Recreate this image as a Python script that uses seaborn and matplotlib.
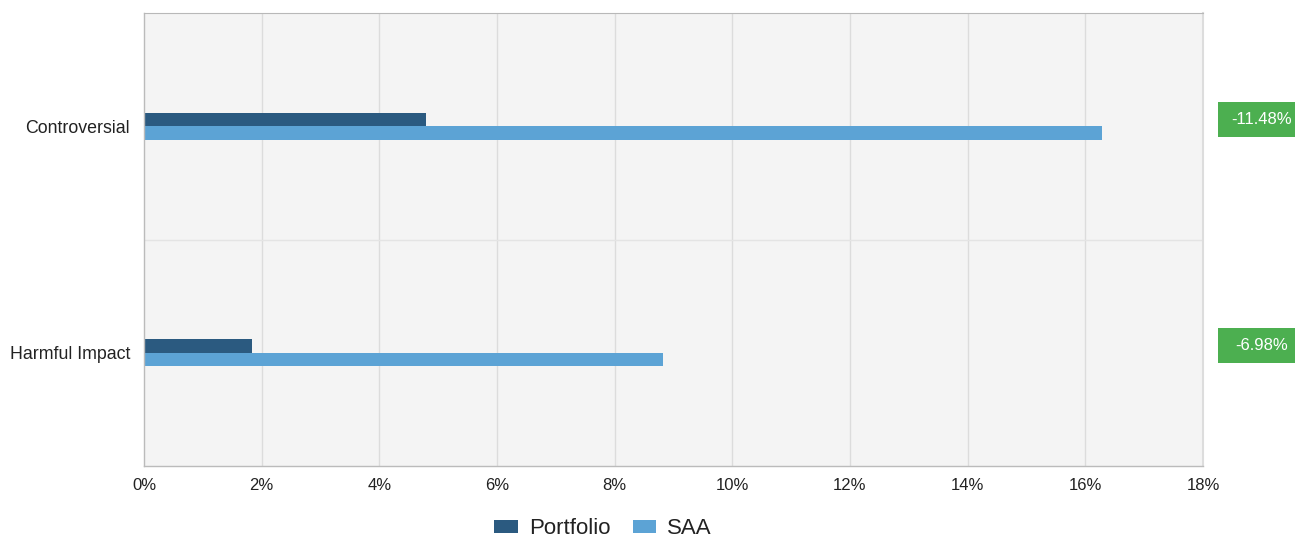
import pandas as pd
import matplotlib.pyplot as plt
import seaborn as sns
from matplotlib.patches import Rectangle
import matplotlib.transforms as mtransforms

# Datos
categories = ['Controversial', 'Harmful Impact']
portfolio = [4.80, 1.84]
saa = [16.28, 8.82]
differences = ['-11.48%', '-6.98%']
series_names = ['Portfolio', 'SAA']
x_ticks = [0, 2, 4, 6, 8, 10, 12, 14, 16, 18]

df = pd.DataFrame({
    'category': categories * 2,
    'value': portfolio + saa,
    'series': [series_names[0]] * len(categories) + [series_names[1]] * len(categories),
})

sns.set_style('white')
plt.rcParams['font.family'] = ['Liberation Sans', 'DejaVu Sans']

fig = plt.figure(figsize=(12.95, 5.38), dpi=100)
ax = fig.add_axes([144 / 1295, 72 / 538, 1059 / 1295, 453 / 538])
ax.set_facecolor('#f4f4f4')

sns.barplot(data=df, y='category', x='value', hue='series', order=categories,
            hue_order=series_names, palette=['#2b5a80', '#5ca3d5'], saturation=1,
            width=0.12, orient='h', ax=ax, legend=True, linewidth=0, edgecolor='none')

ax.set_xlim(0, 18)
ax.set_ylim(1.5, -0.5)
ax.set_xticks(x_ticks)
ax.set_xticklabels([f'{t}%' for t in x_ticks], fontsize=12, color='#222222')
ax.tick_params(axis='x', length=5, width=1, color='#cccccc', pad=4)
ax.tick_params(axis='y', length=0, labelsize=12.8, labelcolor='#222222', pad=10)
ax.set_xlabel('')
ax.set_ylabel('')

# Rejilla
for t in x_ticks[1:-1]:
    ax.axvline(t, color='#dcdcdc', lw=1, zorder=0)
ax.axhline(0.5, color='#e4e4e4', lw=1, zorder=0)
ax.set_axisbelow(True)

for side in ['left', 'bottom']:
    ax.spines[side].set_color('#bbbbbb')
    ax.spines[side].set_linewidth(1)
ax.spines['top'].set_color('#b8b8b8')
ax.spines['right'].set_color('#dddddd')
ax.spines['right'].set_linewidth(1.5)

# Etiquetas de diferencia
trans = mtransforms.blended_transform_factory(ax.transAxes, ax.transData)
for i, label in enumerate(differences):
    yc = i - 0.031
    ax.add_patch(Rectangle((1.0142, yc - 0.078), 0.08, 0.156, transform=trans,
                           facecolor='#4caf50', edgecolor='none', clip_on=False))
    ax.text(1.0555, yc, label, transform=trans, color='white', fontsize=12,
            ha='center', va='center', clip_on=False)

# Leyenda
handles, labels = ax.get_legend_handles_labels()
ax.get_legend().remove()
fig.legend(handles, labels, loc='center', bbox_to_anchor=(603 / 1295, 1 - 529 / 538),
           ncol=2, frameon=False, fontsize=16, handlelength=1.05, handleheight=0.5,
           columnspacing=1.0, handletextpad=0.5, labelcolor='#222222')

fig.savefig('out.png', dpi=100)
